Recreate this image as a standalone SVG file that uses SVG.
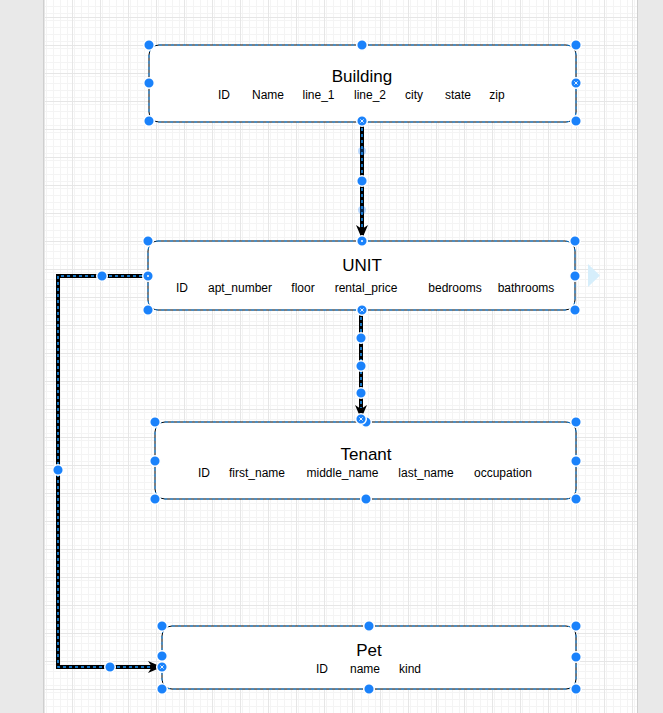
<svg xmlns="http://www.w3.org/2000/svg" width="663" height="713" viewBox="0 0 663 713">
<defs>
<pattern id="minor" x="44" y="17" width="7" height="7" patternUnits="userSpaceOnUse">
<path d="M0 0.5H7M0.5 0V7" fill="none" stroke="#f4f4f4" stroke-width="1"/>
</pattern>
<pattern id="major" x="44" y="17" width="28" height="28" patternUnits="userSpaceOnUse">
<rect width="28" height="28" fill="url(#minor)"/>
<path d="M0 0.5H28M0.5 0V28" fill="none" stroke="#e6e6e6" stroke-width="1"/>
</pattern>
<marker id="arrow" viewBox="0 0 14 14" refX="13" refY="7" markerWidth="14" markerHeight="14" markerUnits="userSpaceOnUse" orient="auto">
<path d="M0 1 L14 7 L0 13 L4 7 Z" fill="#000"/>
</marker>
<g id="h">
<circle r="5.3" fill="#1a82fb" stroke="#fff" stroke-width="1.5"/>
</g>
<g id="hx">
<circle r="5.3" fill="#1a82fb" stroke="#fff" stroke-width="1.5"/>
<path d="M-1.6 -1.6L1.6 1.6M-1.6 1.6L1.6 -1.6" stroke="#fff" stroke-width="0.9"/>
</g>
<g id="hd">
<circle r="5.3" fill="#1a82fb" stroke="#fff" stroke-width="1.5"/>
<circle r="1" fill="#fff"/>
</g>
</defs>
<style>
.node{fill:#fff;stroke:#000;stroke-width:1}
.sel{fill:none;stroke:#1e9bff;stroke-width:1;stroke-dasharray:3 3}
.title{font-family:"Liberation Sans",Arial,sans-serif;font-size:17px;fill:#000;text-anchor:middle}
.attr{font-family:"Liberation Sans",Arial,sans-serif;font-size:12px;fill:#000;text-anchor:middle}
.edge{fill:none;stroke:#000;stroke-width:4;stroke-linejoin:miter}
.edgesel{fill:none;stroke:#1e9bff;stroke-width:1.5;stroke-dasharray:3 3}
</style>
<rect width="663" height="713" fill="#e9e9e9"/>
<rect x="43" y="0" width="595" height="713" fill="#fff"/>
<rect x="43" y="0" width="595" height="713" fill="url(#major)"/>
<path d="M43.5 0V713M637.5 0V713" stroke="#cfcfcf" stroke-width="1"/>

<g id="connectors">
<g id="edge-building-unit">
<path class="edge" d="M362 122V238" marker-end="url(#arrow)"/>
<path class="edgesel" d="M362 122V228"/>
</g>
<g id="edge-unit-tenant">
<path class="edge" d="M361 311V418" marker-end="url(#arrow)"/>
<path class="edgesel" d="M361 311V408"/>
</g>
<g id="edge-unit-pet">
<path class="edge" d="M148 276H58V667H161" marker-end="url(#arrow)"/>
<path class="edgesel" d="M148 276H58V667H150"/>
</g>
</g>

<g id="building">
<rect class="node" x="149" y="45" width="427" height="77" rx="10"/>
<rect class="sel" x="149" y="45" width="427" height="77" rx="10"/>
<text class="title" x="362" y="82">Building</text>
<text class="attr" y="99"><tspan x="224">ID</tspan><tspan x="268">Name</tspan><tspan x="318.5">line_1</tspan><tspan x="370">line_2</tspan><tspan x="414">city</tspan><tspan x="458">state</tspan><tspan x="497">zip</tspan></text>
</g>

<g id="unit">
<rect class="node" x="148" y="241" width="427" height="69" rx="10"/>
<rect class="sel" x="148" y="241" width="427" height="69" rx="10"/>
<text class="title" x="362" y="271">UNIT</text>
<text class="attr" y="292"><tspan x="182">ID</tspan><tspan x="240">apt_number</tspan><tspan x="303">floor</tspan><tspan x="366">rental_price</tspan><tspan x="455">bedrooms</tspan><tspan x="526">bathrooms</tspan></text>
</g>

<g id="tenant">
<rect class="node" x="155" y="422" width="421" height="77" rx="10"/>
<rect class="sel" x="155" y="422" width="421" height="77" rx="10"/>
<text class="title" x="366" y="460">Tenant</text>
<text class="attr" y="477"><tspan x="204">ID</tspan><tspan x="257">first_name</tspan><tspan x="342.5">middle_name</tspan><tspan x="426">last_name</tspan><tspan x="503">occupation</tspan></text>
</g>

<g id="pet">
<rect class="node" x="162" y="626" width="414" height="63" rx="10"/>
<rect class="sel" x="162" y="626" width="414" height="63" rx="10"/>
<text class="title" x="369" y="656">Pet</text>
<text class="attr" y="673"><tspan x="322">ID</tspan><tspan x="365">name</tspan><tspan x="410">kind</tspan></text>
</g>

<path id="hover-arrow" d="M588 264L600 275.5L588 287Z" fill="#d6eefb"/>

<g id="handles">
<use href="#h" x="149" y="45"/><use href="#h" x="362" y="45"/><use href="#h" x="576" y="45"/>
<use href="#h" x="149" y="83"/><use href="#hx" x="576" y="83"/>
<use href="#h" x="149" y="121"/><use href="#h" x="576" y="121"/>
<circle cx="362" cy="151" r="4" fill="#1a82fb" opacity="0.3"/>
<circle cx="362" cy="210" r="4" fill="#1a82fb" opacity="0.3"/>
<use href="#h" x="362" y="181"/>
<use href="#hx" x="362" y="121"/>

<use href="#h" x="148" y="241"/><use href="#hd" x="362" y="241"/><use href="#h" x="575" y="241"/>
<use href="#hd" x="148" y="276"/><use href="#h" x="575" y="276"/>
<use href="#h" x="148" y="310"/><use href="#h" x="575" y="310"/>
<use href="#hx" x="362" y="310"/>

<use href="#h" x="361" y="338"/><use href="#h" x="361" y="366"/><use href="#h" x="361" y="393"/>

<use href="#h" x="155" y="422"/><use href="#h" x="366" y="422"/><use href="#h" x="576" y="422"/>
<use href="#hx" x="361" y="419"/>
<use href="#h" x="155" y="461"/><use href="#h" x="576" y="461"/>
<use href="#h" x="155" y="499"/><use href="#h" x="366" y="499"/><use href="#h" x="576" y="499"/>

<use href="#h" x="102" y="276"/><use href="#h" x="58" y="470"/><use href="#h" x="110" y="667"/>

<use href="#h" x="162" y="626"/><use href="#h" x="369" y="626"/><use href="#h" x="576" y="626"/>
<use href="#h" x="162" y="656"/><use href="#h" x="576" y="657"/>
<use href="#hx" x="162" y="667"/>
<use href="#h" x="162" y="689"/><use href="#h" x="369" y="689"/><use href="#h" x="576" y="689"/>
</g>
</svg>
